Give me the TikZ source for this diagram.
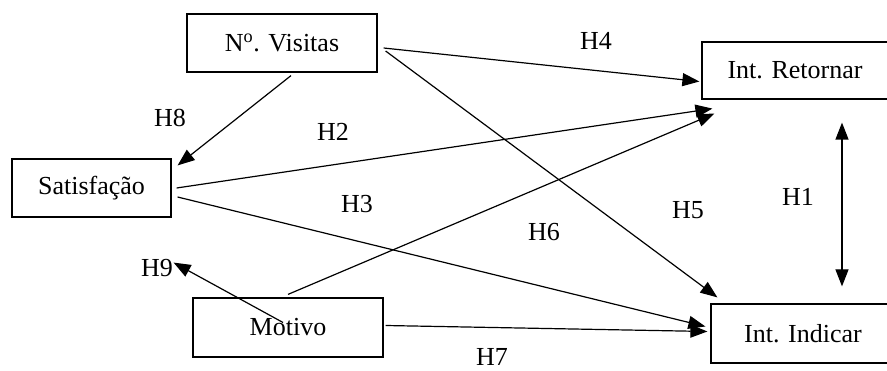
\documentclass[tikz,border=0pt]{standalone}
\usepackage{fontspec}
\setmainfont{Liberation Serif}
\usepackage{tikz}
\usetikzlibrary{arrows.meta,positioning}

\begin{document}
\begin{tikzpicture}[x=1pt,y=-1pt,
  construct/.style={draw,line width=1.2pt,inner sep=0pt,align=center,
                    font=\fontsize{26}{30}\selectfont},
  hyp/.style={inner sep=0pt,font=\fontsize{26}{30}\selectfont},
  arr/.style={-{Triangle[length=17pt,width=13pt]},line width=1.2pt},
  dblarr/.style={{Triangle[length=17pt,width=13pt]}-{Triangle[length=17pt,width=13pt]},line width=1.2pt}]
  \useasboundingbox (0,0) rectangle (887,371);
  \clip (0,0) rectangle (887,371);
  % constructs
  \node[construct,minimum width=190pt,minimum height=58pt] (visitas)  at (282,43)    {N\textsuperscript{o}. Visitas};
  \node[construct,minimum width=186pt,minimum height=57pt] (retornar) at (795,70.5)  {Int. Retornar};
  \node[construct,minimum width=159pt,minimum height=58pt] (satisf)   at (91.5,188)  {Satisfação};
  \node[construct,minimum width=190pt,minimum height=59pt] (motivo)   at (288,327.5) {Motivo};
  \node[construct,minimum width=184pt,minimum height=59pt] (indicar)  at (803,333.5) {Int. Indicar};
  % hypotheses
  \node[hyp] (h1) at (798,197) {H1};
  \node[hyp] (h2) at (333,132) {H2};
  \node[hyp] (h3) at (357,204) {H3};
  \node[hyp] (h4) at (596,41)  {H4};
  \node[hyp] (h5) at (688,210) {H5};
  \node[hyp] (h6) at (544,232) {H6};
  \node[hyp] (h7) at (492,357) {H7};
  \node[hyp] (h8) at (170,118) {H8};
  \node[hyp] (h9) at (157,268) {H9};
  % paths
  \draw[arr] ([xshift=9pt,yshift=-3pt]visitas.south) -- ([xshift=6pt,yshift=-7pt]satisf.north east);
  \draw[arr] ([xshift=6pt,yshift=-5pt]visitas.east) -- ([xshift=-2pt,yshift=-11pt]retornar.west);
  \draw[arr] ([xshift=8pt,yshift=-8pt]visitas.east) -- ([xshift=7pt,yshift=6pt]indicar.north west);
  \draw[arr] ([xshift=5pt]satisf.east) -- ([xshift=11pt,yshift=-9pt]retornar.south west);
  \draw[arr] ([xshift=6pt,yshift=-9pt]satisf.east) -- ([xshift=-5pt,yshift=7pt]indicar.west);
  \draw[arr] ([yshift=3pt]motivo.north) -- ([xshift=13pt,yshift=-14pt]retornar.south west);
  \draw[arr] ([xshift=-5pt,yshift=5pt]motivo.center) -- ([xshift=2pt,yshift=-45pt]satisf.south east);
  \draw[arr] ([xshift=2pt,yshift=2pt]motivo.east) -- ([xshift=-3pt,yshift=2pt]indicar.west);
  \draw[dblarr] ([xshift=47pt,yshift=-23pt]retornar.south) -- ([xshift=39pt,yshift=17pt]indicar.north);
\end{tikzpicture}
\end{document}
